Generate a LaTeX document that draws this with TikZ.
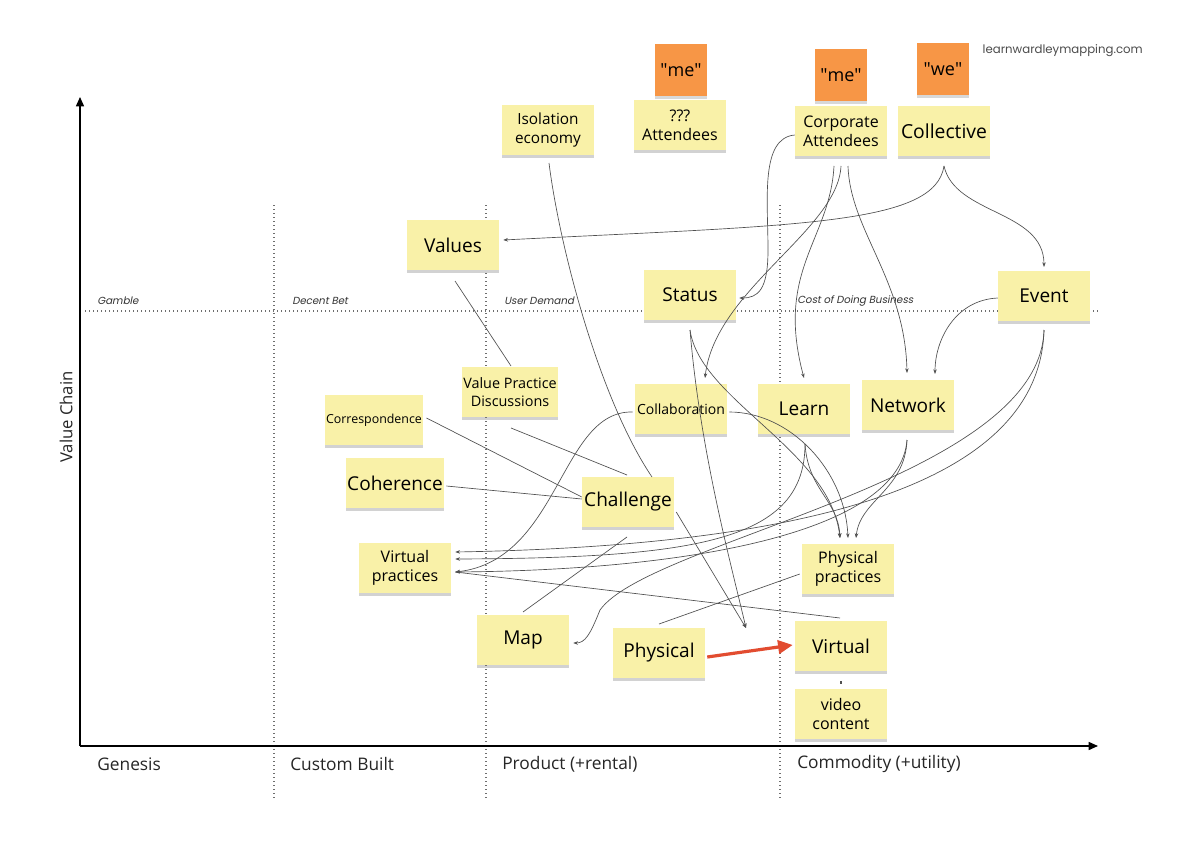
\documentclass[tikz,border=0pt]{standalone}
\usepackage{fontspec}
\setmainfont{Open Sans}
\newfontfamily\quadfont[FakeSlant=0.2]{Poppins}
\newfontfamily\webfont{Poppins}
\usetikzlibrary{arrows.meta,shadows,calc}
\definecolor{sticky}{RGB}{249,241,168}
\definecolor{stickyor}{RGB}{247,150,70}
\definecolor{conncol}{RGB}{80,80,80}
\definecolor{redarrow}{RGB}{226,76,48}
\definecolor{dotgray}{RGB}{110,110,110}
\begin{document}
\begin{tikzpicture}[x=0.75pt,y=-0.75pt,
 note/.style={fill=sticky, minimum width=69pt, minimum height=37.5pt, align=center, inner sep=1pt,
   drop shadow={shadow xshift=0pt,shadow yshift=-2.5pt,opacity=0.35}},
 onote/.style={fill=stickyor, minimum width=39pt, minimum height=39pt, align=center, inner sep=1pt,
   drop shadow={shadow xshift=0pt,shadow yshift=-2.5pt,opacity=0.3}},
 bigt/.style={font=\fontsize{14.3}{16}\selectfont},
 midt/.style={font=\fontsize{12}{14.5}\selectfont},
 link/.style={draw=conncol, line width=0.5pt},
 arr/.style={link, -{Stealth[length=3.5pt,width=2.6pt]}},
 dotline/.style={draw=dotgray, line width=0.9pt, dash pattern=on 0.9pt off 2.1pt},
 axisline/.style={line width=1.1pt, -{Triangle[length=7pt,width=6pt]}},
 quad/.style={font=\quadfont\fontsize{7.7}{9}\selectfont, text=black!80, anchor=west, inner sep=0pt},
 evol/.style={font=\fontsize{13}{15}\selectfont, text=black!85, anchor=west, inner sep=0pt},
]
\fill[white] (0,0) rectangle (1200,849);
\useasboundingbox (0,0) rectangle (1200,849);

% grid
\draw[dotline] (274,205) -- (274,798);
\draw[dotline] (486,205) -- (486,798);
\draw[dotline] (780,205) -- (780,798);
\draw[dotline] (85,311) -- (1100,311);

% axes
\coordinate (origin) at (80,746);
\coordinate (ytop) at (80,97);
\coordinate (xend) at (1098,746);
\draw[axisline] (origin) -- (ytop);
\draw[axisline] (origin) -- (xend);

% labels
\node[quad] (lgamble) at (97,301) {Gamble};
\node[quad] (ldecent) at (292,301) {Decent Bet};
\node[quad] (luser) at (504,301) {User Demand};
\node[quad] (lcost) at (797,301) {Cost of Doing Business};
\node[evol] (lgen) at (97,764) {Genesis};
\node[evol] (lcus) at (290,764) {Custom Built};
\node[evol] (lpro) at (502,764) {Product (+rental)};
\node[evol] (lcom) at (797,764) {Commodity (+utility)};
\node[rotate=90, font=\fontsize{12.5}{14}\selectfont, text=black!85] (lvc) at (66,417) {Value Chain};
\node[anchor=east, font=\webfont\fontsize{8.8}{10}\selectfont, text=black!70, inner sep=0pt] (lweb) at (1143,51) {learnwardleymapping.com};

% notes
\node[onote, font=\fontsize{13.5}{15}\selectfont] (me1) at (681,70) {\textquotedbl me\textquotedbl};
\node[onote, font=\fontsize{13.5}{15}\selectfont] (me2) at (841,75) {\textquotedbl me\textquotedbl};
\node[onote, font=\fontsize{13.5}{15}\selectfont] (we) at (943,69) {\textquotedbl we\textquotedbl};
\node[note, midt] (attq) at (680,125) {???\\Attendees};
\node[note, font=\fontsize{11.5}{14}\selectfont] (iso) at (548,130) {Isolation\\economy};
\node[note, midt] (corp) at (841,131) {Corporate\\Attendees};
\node[note, font=\fontsize{14.5}{16}\selectfont] (coll) at (944,131) {Collective};
\node[note, bigt] (values) at (453,245) {Values};
\node[note, bigt] (status) at (690,295) {Status};
\node[note, bigt] (event) at (1044,296) {Event};
\node[note, font=\fontsize{10.8}{13}\selectfont] (vpd) at (510,392) {Value Practice\\Discussions};
\node[note, font=\fontsize{10.5}{12}\selectfont] (collab) at (681,409) {Collaboration};
\node[note, bigt] (learn) at (804,409) {Learn};
\node[note, bigt] (network) at (908,405) {Network};
\node[note, font=\fontsize{9.3}{11}\selectfont] (corr) at (374,420) {Correspondence};
\node[note, bigt] (coher) at (395,483) {Coherence};
\node[note, bigt] (chal) at (628,502) {Challenge};
\node[note, midt] (vprac) at (405,568) {Virtual\\practices};
\node[note, midt] (pprac) at (848,569) {Physical\\practices};
\node[note, bigt] (map) at (523,640) {Map};
\node[note, bigt] (phys) at (659,653) {Physical};
\node[note, bigt] (virt) at (841,646) {Virtual};
\node[note, midt] (video) at (841,714) {video\\content};
\coordinate (evo) at (746,628);

% connectors
\draw[link] ($(iso)+(1,33)$) .. controls (560,250) and (600,400) .. ($(chal)+(24,-25)$);
\draw[arr] ($(corp.west)+(0,4)$) .. controls (760,138) and (768,200) .. (768,250) .. controls (768,290) and (758,298) .. ($(status.east)+(3,3)$);
\draw[arr] ($(corp)+(0,35)$) .. controls (838,230) and (715,290) .. ($(collab)+(24,-31)$);
\draw[arr] ($(corp)+(-7,35)$) .. controls (830,240) and (775,270) .. ($(learn)+(0,-31)$);
\draw[arr] ($(corp)+(7,35)$) .. controls (850,230) and (905,280) .. ($(network)+(-1,-32)$);
\draw[arr] ($(coll)+(0,35)$) .. controls (935,225) and (800,225) .. ($(values.east)+(4,-5)$);
\draw[arr] ($(coll)+(0,35)$) .. controls (955,215) and (1044,210) .. ($(event)+(0,-29)$);
\draw[arr] ($(event.west)+(0,2)$) .. controls (955,300) and (935,340) .. ($(network)+(27,-31)$);
\draw[arr] ($(event)+(0,34)$) .. controls (1040,470) and (850,545) .. ($(vprac.east)+(4,-16)$);
\draw[arr] ($(event)+(0,34)$) .. controls (1040,480) and (650,540) .. (600,610) .. controls (590,635) and (585,643) .. ($(map.east)+(4,3)$);
\draw[arr] ($(network)+(-1,35)$) .. controls (905,490) and (860,500) .. ($(pprac)+(8,-31)$);
\draw[arr] ($(network)+(-1,35)$) .. controls (900,530) and (700,570) .. ($(vprac.east)+(4,4)$);
\draw[arr] ($(learn)+(1,35)$) .. controls (808,490) and (838,500) .. ($(pprac)+(-8,-31)$);
\draw[arr] ($(learn)+(1,35)$) .. controls (805,540) and (700,558) .. ($(vprac.east)+(4,-9)$);
\draw[arr] ($(collab.east)+(2,3)$) .. controls (790,412) and (845,470) .. ($(pprac)+(0,-31)$);
\draw[arr] ($(collab.west)+(-2,3)$) .. controls (560,410) and (560,560) .. ($(vprac.east)+(4,4)$);
\draw[arr] ($(status)+(0,35)$) .. controls (700,400) and (830,450) .. ($(pprac)+(-8,-31)$);
\draw[arr] ($(status)+(0,35)$) .. controls (700,450) and (730,560) .. (evo);
\draw[arr] ($(chal.east)+(2,10)$) -- (evo);
\draw[link] ($(values)+(2,36)$) -- ($(vpd)+(1,-26)$);
\draw[link] ($(vpd)+(1,36)$) -- ($(chal)+(-1,-27)$);
\draw[link] ($(corr.east)+(3,-2)$) -- ($(chal.west)+(0,-5)$);
\draw[link] ($(coher.east)+(2,3)$) -- ($(chal.west)+(0,-3)$);
\draw[link] ($(chal)+(-1,35)$) -- ($(map)+(0,-28)$);
\draw[link] ($(phys)+(0,-29)$) -- ($(pprac.west)+(-2,5)$);
\draw[link] ($(vprac.east)+(4,4)$) -- ($(virt)+(-1,-28)$);
\draw[draw=redarrow, line width=2.4pt, -{Triangle[length=11pt,width=10pt]}] ($(phys.east)+(2,4)$) -- ($(virt.west)+(-2,-1)$);
\draw[link, line width=0.8pt] ($(virt)+(0,35)$) -- ($(video)+(0,-30)$);
\end{tikzpicture}
\end{document}
